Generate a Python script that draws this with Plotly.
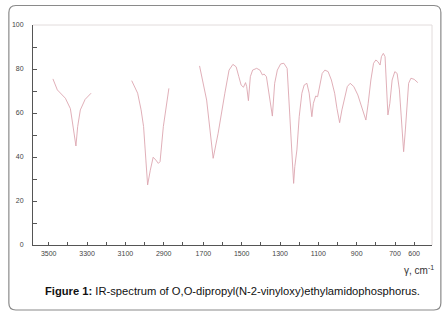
import plotly.graph_objects as go

# ---- data (wavenumber cm^-1, transmittance %) ----
wn_a = [3478, 3455, 3413, 3387, 3378, 3358, 3349, 3335, 3310, 3279]
t_a = [75.5, 70.5, 66.7, 62.0, 56.8, 45.0, 53.8, 61.4, 66.2, 69.0]

wn_b = [3067, 3036, 3018, 3005, 2993, 2984, 2970, 2955, 2941, 2928, 2919, 2902, 2873]
t_b = [74.7, 69.0, 61.4, 53.8, 38.6, 27.3, 34.0, 39.9, 38.6, 37.1, 37.9, 53.8, 71.2]

wn_c = [1720, 1683, 1649, 1623, 1588, 1566, 1546, 1529, 1515, 1503, 1491, 1480, 1474,
        1465, 1455, 1443, 1422, 1405, 1392, 1383, 1371, 1357, 1340, 1328, 1314, 1297,
        1280, 1263, 1254, 1241, 1229, 1223, 1212, 1200, 1186, 1174, 1160, 1148, 1134,
        1126, 1114, 1104, 1092, 1080, 1066, 1049, 1032, 1015, 1003, 989, 977, 963, 949,
        934, 915, 894, 874, 860, 852, 840, 826, 812, 800, 789, 778, 771, 761, 752, 745,
        737, 727, 715, 701, 689, 677, 667, 655, 646, 637, 629, 617, 600, 581]
t_c = [81.4, 65.9, 39.4, 50.8, 69.0, 79.5, 82.1, 81.0, 76.5, 72.7, 71.7, 73.8, 72.0,
       65.6, 76.5, 79.5, 80.3, 79.5, 77.3, 77.7, 76.5, 67.4, 58.6, 73.5, 79.5, 82.3,
       82.6, 80.3, 65.9, 43.2, 28.0, 35.6, 43.2, 58.3, 69.0, 72.7, 73.5, 69.0, 58.3,
       64.4, 67.7, 67.4, 73.5, 78.0, 79.5, 78.8, 75.0, 69.0, 62.1, 55.6, 61.4, 67.4, 72.0,
       73.5, 72.0, 68.2, 62.9, 58.3, 56.8, 64.4, 75.0, 82.6, 84.1, 83.3, 81.8, 85.6, 87.1, 85.6, 73.5,
       59.1, 64.4, 75.0, 78.8, 78.0, 70.5, 58.3, 42.4, 52.3, 65.9, 73.5, 75.8, 75.3, 73.8]

left_ticks = [3500, 3400, 3300, 3200, 3100, 3000, 2900, 2800]
left_text = ["3500", "", "3300", "", "3100", "", "2900", ""]
right_ticks = [1700, 1600, 1500, 1400, 1300, 1200, 1100, 1000, 900, 800, 700, 600, 500]
right_text = ["1700", "", "1500", "", "1300", "", "1100", "", "900", "", "700", "600", ""]
y_ticks = [0, 10, 20, 30, 40, 50, 60, 70, 80, 90, 100]
y_text = ["0", "", "20", "", "40", "", "60", "", "80", "", "100"]

line_color = "#dca6b0"
axis_color = "#555555"
tick_font = dict(family="Liberation Sans Narrow, Arial Narrow, Liberation Sans, Arial", size=7, color="#444444")

fig = go.Figure()
fig.add_trace(go.Scatter(x=wn_a, y=t_a, mode="lines", line=dict(color=line_color, width=0.9),
                         xaxis="x", yaxis="y", showlegend=False, hoverinfo="skip"))
fig.add_trace(go.Scatter(x=wn_b, y=t_b, mode="lines", line=dict(color=line_color, width=0.9),
                         xaxis="x", yaxis="y", showlegend=False, hoverinfo="skip"))
fig.add_trace(go.Scatter(x=wn_c, y=t_c, mode="lines", line=dict(color=line_color, width=0.9),
                         xaxis="x2", yaxis="y", showlegend=False, hoverinfo="skip"))

split = (191 - 27) / 405

common_x = dict(showgrid=False, zeroline=False, showline=True, linecolor=axis_color, linewidth=1,
                ticks="inside", ticklen=3, tickcolor=axis_color, tickwidth=1, tickfont=tick_font,
                ticklabelstandoff=2)

fig.update_layout(
    width=446, height=317,
    margin=dict(l=27, r=14, t=25, b=72),
    paper_bgcolor="white", plot_bgcolor="white",
    xaxis=dict(domain=[0, split], range=[3582, 2739], tickvals=left_ticks, ticktext=left_text,
               anchor="y", **common_x),
    xaxis2=dict(domain=[split, 1], range=[1746, 507], tickvals=right_ticks, ticktext=right_text,
                anchor="y", **common_x),
    yaxis=dict(range=[0, 100], tickvals=y_ticks, ticktext=y_text, showgrid=False, zeroline=False,
               showline=True, linecolor=axis_color, linewidth=1, ticks="inside", ticklen=4,
               tickcolor=axis_color, tickfont=tick_font, ticklabelstandoff=7),
)

# light top/right frame of the plot area
fig.add_shape(type="path", xref="paper", yref="paper",
              path="M 0 1 L 1 1 L 1 0", line=dict(color="#e2dcdc", width=1), layer="below")

# rounded outer border
x0, x1 = (2.5 - 27) / 405, (441 - 27) / 405
y0, y1 = (245 - 310) / 220, (245 - 5.5) / 220
rx, ry = 7 / 405, 7 / 220
path = (f"M {x0+rx} {y1} L {x1-rx} {y1} Q {x1} {y1} {x1} {y1-ry} "
        f"L {x1} {y0+ry} Q {x1} {y0} {x1-rx} {y0} "
        f"L {x0+rx} {y0} Q {x0} {y0} {x0} {y0+ry} "
        f"L {x0} {y1-ry} Q {x0} {y1} {x0+rx} {y1} Z")
fig.add_shape(type="path", xref="paper", yref="paper", path=path,
              line=dict(color="#8a8a8a", width=1.2))

fig.add_annotation(xref="paper", yref="paper", x=(436 - 27) / 405, y=(245 - 270) / 220,
                   xanchor="right", yanchor="middle", showarrow=False,
                   text="γ, cm<sup>-1</sup>",
                   font=dict(family="Liberation Sans, Arial", size=10, color="#333333"))
fig.add_annotation(xref="paper", yref="paper", x=(230 - 27) / 405, y=(245 - 291) / 220,
                   xanchor="center", yanchor="middle", showarrow=False,
                   text="<b>Figure 1:</b> IR-spectrum of O,O-dipropyl(N-2-vinyloxy)ethylamidophosphorus.",
                   font=dict(family="Liberation Sans, Arial", size=11.2, color="#111111"))

fig.write_html("out.html", config={"displayModeBar": False},
               post_script="document.body.style.margin='0';document.body.style.overflow='hidden';")
